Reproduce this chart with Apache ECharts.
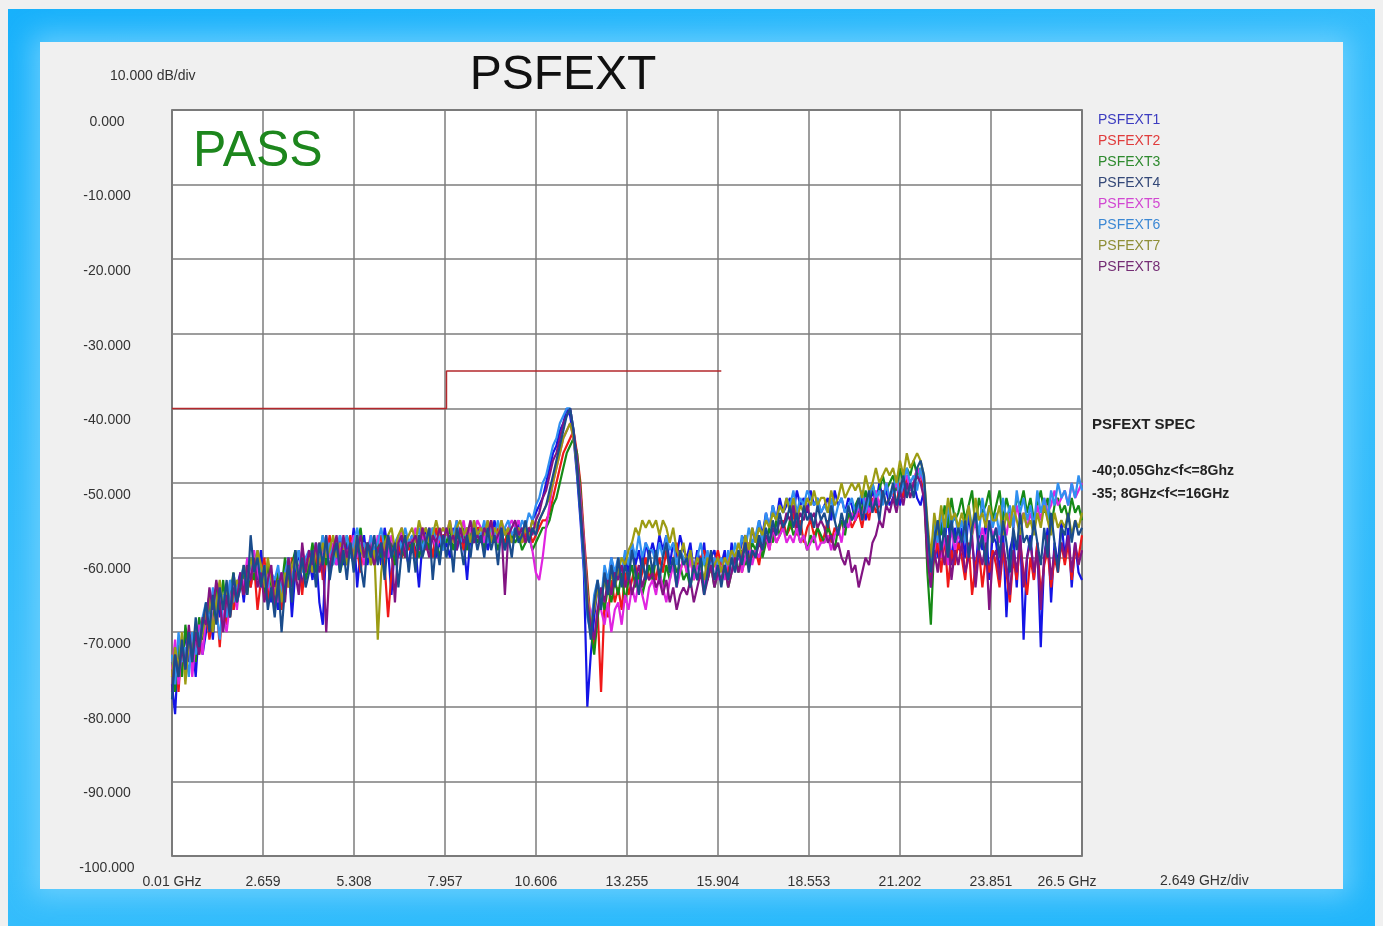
<!DOCTYPE html>
<html>
<head>
<meta charset="utf-8">
<title>PSFEXT</title>
<script src="https://cdn.jsdelivr.net/npm/echarts@6/dist/echarts.min.js"></script>
<style>
  html, body { margin: 0; padding: 0; background: #f0f0f0; }
  #frame {
    position: absolute; left: 8px; top: 9px; width: 1367px; height: 917px;
    background: linear-gradient(160deg, #18b1fb 0%, #3cc0fc 50%, #22b6fb 100%);
  }
  #main {
    position: absolute; left: 40px; top: 42px; width: 1303px; height: 847px;
    background: #f0f0f0;
    box-shadow: 0 0 26px 8px rgba(130, 215, 255, 0.7);
  }
</style>
</head>
<body>
<div id="frame"></div>
<div id="main"></div>
<script>
// sweep points, GHz (one row per GHz)
var freqGHz = [
  0.01, 0.1, 0.2, 0.3, 0.4, 0.5, 0.6, 0.7, 0.8, 0.9,
  1.0, 1.1, 1.2, 1.3, 1.4, 1.5, 1.6, 1.7, 1.8, 1.9,
  2.0, 2.1, 2.2, 2.3, 2.4, 2.5, 2.6, 2.7, 2.8, 2.9,
  3.0, 3.1, 3.2, 3.3, 3.4, 3.5, 3.6, 3.7, 3.8, 3.9,
  4.0, 4.1, 4.2, 4.3, 4.4, 4.5, 4.6, 4.7, 4.8, 4.9,
  5.0, 5.1, 5.2, 5.3, 5.4, 5.5, 5.6, 5.7, 5.8, 5.9,
  6.0, 6.1, 6.2, 6.3, 6.4, 6.5, 6.6, 6.7, 6.8, 6.9,
  7.0, 7.1, 7.2, 7.3, 7.4, 7.5, 7.6, 7.7, 7.8, 7.9,
  8.0, 8.1, 8.2, 8.3, 8.4, 8.5, 8.6, 8.7, 8.8, 8.9,
  9.0, 9.1, 9.2, 9.3, 9.4, 9.5, 9.6, 9.7, 9.8, 9.9,
  10.0, 10.1, 10.2, 10.3, 10.4, 10.5, 10.6, 10.7, 10.8, 10.9,
  11.0, 11.1, 11.2, 11.3, 11.4, 11.5, 11.6, 11.7, 11.8, 11.9,
  12.0, 12.1, 12.2, 12.3, 12.4, 12.5, 12.6, 12.7, 12.8, 12.9,
  13.0, 13.1, 13.2, 13.3, 13.4, 13.5, 13.6, 13.7, 13.8, 13.9,
  14.0, 14.1, 14.2, 14.3, 14.4, 14.5, 14.6, 14.7, 14.8, 14.9,
  15.0, 15.1, 15.2, 15.3, 15.4, 15.5, 15.6, 15.7, 15.8, 15.9,
  16.0, 16.1, 16.2, 16.3, 16.4, 16.5, 16.6, 16.7, 16.8, 16.9,
  17.0, 17.1, 17.2, 17.3, 17.4, 17.5, 17.6, 17.7, 17.8, 17.9,
  18.0, 18.1, 18.2, 18.3, 18.4, 18.5, 18.6, 18.7, 18.8, 18.9,
  19.0, 19.1, 19.2, 19.3, 19.4, 19.5, 19.6, 19.7, 19.8, 19.9,
  20.0, 20.1, 20.2, 20.3, 20.4, 20.5, 20.6, 20.7, 20.8, 20.9,
  21.0, 21.1, 21.2, 21.3, 21.4, 21.5, 21.6, 21.7, 21.8, 21.9,
  22.0, 22.1, 22.2, 22.3, 22.4, 22.5, 22.6, 22.7, 22.8, 22.9,
  23.0, 23.1, 23.2, 23.3, 23.4, 23.5, 23.6, 23.7, 23.8, 23.9,
  24.0, 24.1, 24.2, 24.3, 24.4, 24.5, 24.6, 24.7, 24.8, 24.9,
  25.0, 25.1, 25.2, 25.3, 25.4, 25.5, 25.6, 25.7, 25.8, 25.9,
  26.0, 26.1, 26.2, 26.3, 26.4, 26.5
];

// dB, same rows as freqGHz
var psfext1 = [
  -77, -81, -72, -75, -70, -74, -71, -76, -69, -73,
  -70, -66, -71, -64, -68, -65, -69, -63, -67, -64,
  -62, -66, -61, -64, -60, -63, -59, -65, -62, -66,
  -63, -67, -62, -65, -60, -68, -62, -59, -64, -61,
  -60, -63, -59, -66, -69, -58, -62, -59, -61, -57,
  -61, -58, -60, -56, -64, -59, -57, -61, -58, -60,
  -58, -61, -56, -59, -65, -58, -60, -57, -59, -61,
  -57, -59, -64, -58, -56, -59, -57, -60, -58, -59,
  -58, -60, -56, -59, -57, -58, -63, -57, -58, -56,
  -58, -56, -59, -57, -55, -58, -57, -59, -56, -58,
  -57, -55, -58, -56, -57, -55, -54, -53, -52, -50,
  -48, -46, -45, -43, -42, -40, -41, -44, -49, -55,
  -62, -80, -73, -68, -64, -66, -62, -64, -60, -63,
  -61, -63, -60, -62, -58, -61, -59, -62, -58, -60,
  -58, -60, -57, -59, -57, -61, -58, -60, -57, -59,
  -60, -58, -62, -59, -61, -58, -63, -60, -59, -62,
  -61, -59, -63, -58, -61, -60, -58, -57, -60, -56,
  -58, -55, -57, -54, -56, -53, -55, -52, -54, -53,
  -52, -54, -51, -53, -52, -54, -51, -53, -52, -54,
  -53, -52, -55, -51, -53, -52, -54, -52, -53, -55,
  -54, -52, -55, -53, -51, -53, -50, -52, -51, -53,
  -52, -50, -53, -51, -49, -51, -50, -52, -53, -51,
  -58, -64, -56, -60, -55, -58, -54, -61, -56, -59,
  -56, -60, -54, -58, -62, -56, -59, -55, -63, -57,
  -58, -62, -56, -68, -59, -57, -64, -56, -71, -60,
  -57, -63, -58, -72, -60, -56, -66, -58, -61, -55,
  -60, -56, -64, -58, -62, -63
];
var psfext2 = [
  -76, -72, -78, -71, -74, -70, -75, -69, -73, -70,
  -67, -71, -68, -66, -72, -65, -69, -64, -67, -65,
  -63, -65, -62, -64, -61, -67, -63, -60, -66, -62,
  -65, -62, -67, -61, -64, -60, -63, -61, -65, -60,
  -62, -59, -61, -58, -63, -60, -57, -61, -59, -60,
  -58, -61, -57, -60, -59, -62, -58, -60, -57, -61,
  -59, -57, -61, -68, -62, -59, -58, -60, -57, -59,
  -57, -60, -58, -56, -59, -57, -60, -56, -58, -57,
  -57, -56, -58, -55, -57, -59, -56, -57, -58, -56,
  -56, -58, -57, -55, -58, -56, -57, -58, -56, -57,
  -57, -56, -58, -57, -56, -58, -57, -56, -55, -55,
  -54, -52, -50, -48, -46, -45, -44, -43, -46, -50,
  -57, -63, -69, -72, -67, -78, -66, -68, -63, -66,
  -64, -67, -62, -65, -63, -61, -64, -62, -60, -63,
  -61, -63, -60, -62, -59, -62, -61, -58, -62, -60,
  -62, -60, -63, -61, -60, -59, -61, -60, -61, -59,
  -61, -60, -62, -60, -61, -59, -62, -60, -58, -60,
  -59, -61, -58, -57, -59, -56, -58, -57, -55, -57,
  -56, -54, -57, -55, -58, -56, -55, -57, -56, -58,
  -57, -55, -58, -56, -57, -55, -56, -54, -56, -55,
  -54, -56, -53, -55, -52, -54, -53, -51, -53, -52,
  -51, -53, -50, -52, -49, -51, -50, -48, -49, -51,
  -59, -63, -60, -58, -62, -57, -64, -59, -61, -58,
  -60, -63, -58, -65, -61, -59, -64, -60, -62, -59,
  -61, -64, -59, -62, -66, -60, -63, -58, -62, -65,
  -60, -63, -58, -65, -61, -59, -64, -60, -62, -58,
  -61, -58, -63, -59, -60, -57
];
var psfext3 = [
  -74, -78, -71, -76, -69, -73, -70, -74, -68, -71,
  -69, -66, -70, -64, -67, -63, -68, -65, -62, -66,
  -64, -62, -65, -61, -63, -60, -62, -65, -61, -64,
  -66, -62, -64, -60, -63, -61, -59, -62, -60, -63,
  -61, -58, -62, -60, -57, -61, -59, -60, -58, -62,
  -60, -57, -59, -61, -58, -56, -60, -58, -61, -59,
  -58, -60, -57, -59, -58, -61, -57, -59, -60, -58,
  -59, -57, -60, -58, -57, -59, -56, -58, -60, -57,
  -58, -56, -59, -57, -58, -56, -59, -57, -56, -58,
  -57, -59, -56, -58, -57, -59, -57, -56, -58, -57,
  -58, -57, -59, -58, -57, -59, -58, -57, -56, -56,
  -55, -53, -52, -50, -48, -46, -45, -44, -46, -51,
  -58, -64, -70, -73, -68, -65, -67, -64, -66, -63,
  -65, -62, -66, -63, -61, -64, -62, -65, -63, -61,
  -63, -60, -62, -64, -61, -63, -60, -62, -61, -63,
  -62, -64, -61, -63, -62, -60, -63, -61, -64, -62,
  -63, -61, -64, -62, -60, -62, -59, -61, -60, -58,
  -59, -57, -60, -58, -56, -58, -55, -57, -56, -57,
  -55, -57, -56, -58, -57, -59, -57, -58, -56, -57,
  -58, -56, -57, -59, -56, -55, -57, -54, -55, -53,
  -52, -54, -51, -53, -50, -52, -51, -49, -51, -50,
  -49, -51, -48, -50, -48, -49, -47, -49, -48, -50,
  -62, -69, -58, -55, -57, -53, -56, -52, -55, -54,
  -52, -55, -53, -51, -56, -52, -54, -53, -51, -55,
  -53, -51, -55, -52, -54, -56, -52, -53, -51, -54,
  -52, -55, -53, -51, -54, -52, -56, -53, -52, -54,
  -53, -55, -52, -54, -53, -55
];
var psfext4 = [
  -79, -73, -76, -71, -75, -70, -74, -68, -72, -69,
  -66, -70, -65, -69, -64, -67, -63, -68, -62, -66,
  -64, -61, -65, -57, -62, -60, -64, -61, -67, -64,
  -68, -63, -70, -64, -61, -66, -59, -63, -60, -64,
  -62, -59, -64, -58, -61, -57, -63, -60, -58, -62,
  -59, -63, -58, -62, -57, -61, -64, -58, -60, -57,
  -61, -58, -63, -57, -60, -58, -64, -59, -57, -62,
  -58, -62, -57, -60, -58, -56, -63, -58, -61, -57,
  -60, -57, -62, -56, -58, -61, -57, -60, -56, -59,
  -57, -60, -56, -59, -57, -61, -56, -59, -57, -60,
  -56, -58, -57, -55, -58, -56, -57, -55, -54, -53,
  -51, -49, -47, -45, -43, -41, -40, -43, -48, -54,
  -60, -67, -71, -66, -63, -67, -62, -65, -61, -64,
  -60, -64, -61, -63, -59, -62, -65, -60, -63, -59,
  -62, -59, -63, -60, -58, -62, -60, -64, -59, -61,
  -60, -64, -61, -63, -60, -65, -62, -59, -63, -61,
  -64, -61, -63, -60, -62, -59, -61, -58, -62, -59,
  -60, -57, -59, -56, -58, -55, -57, -54, -56, -55,
  -53, -56, -54, -57, -53, -55, -54, -56, -53, -55,
  -54, -56, -53, -55, -57, -54, -56, -53, -55, -54,
  -52, -55, -53, -51, -54, -52, -55, -51, -53, -52,
  -50, -53, -51, -49, -52, -50, -52, -48, -47, -49,
  -56, -62, -58, -55, -59, -56, -60, -55, -58, -56,
  -58, -55, -60, -56, -54, -59, -57, -61, -55, -58,
  -56, -60, -55, -58, -62, -56, -59, -54, -58, -57,
  -59, -55, -58, -61, -56, -60, -54, -58, -62, -56,
  -57, -54, -58, -55, -57, -56
];
var psfext5 = [
  -75, -71, -77, -72, -74, -70, -76, -71, -69, -73,
  -68, -65, -69, -67, -64, -68, -70, -66, -63, -67,
  -62, -64, -60, -63, -59, -62, -64, -61, -63, -65,
  -64, -66, -62, -65, -61, -63, -60, -62, -59, -61,
  -60, -62, -58, -61, -59, -57, -60, -58, -61, -59,
  -58, -60, -59, -57, -60, -58, -61, -59, -57, -60,
  -57, -59, -58, -60, -57, -59, -58, -56, -59, -58,
  -58, -56, -59, -57, -58, -56, -57, -59, -57, -56,
  -57, -55, -58, -56, -57, -55, -58, -56, -57, -55,
  -56, -58, -55, -57, -56, -58, -55, -57, -56, -55,
  -56, -55, -57, -56, -57, -59, -62, -63, -60, -56,
  -53, -50, -48, -46, -44, -43, -42, -44, -47, -52,
  -58, -65, -68, -66, -64, -67, -69, -66, -70, -67,
  -66, -69, -65, -67, -64, -66, -63, -65, -67, -64,
  -63, -65, -62, -64, -66, -63, -61, -64, -62, -60,
  -62, -60, -63, -61, -62, -64, -61, -62, -60, -63,
  -61, -63, -60, -62, -61, -59, -62, -60, -58, -61,
  -59, -60, -58, -57, -59, -56, -58, -57, -56, -58,
  -57, -58, -56, -58, -57, -59, -58, -57, -59, -58,
  -58, -57, -59, -57, -56, -58, -55, -56, -54, -55,
  -53, -55, -52, -54, -53, -51, -53, -52, -50, -52,
  -51, -50, -52, -50, -49, -51, -50, -48, -49, -50,
  -57, -62, -59, -56, -60, -57, -61, -56, -59, -57,
  -58, -56, -60, -57, -55, -59, -56, -58, -55, -57,
  -56, -58, -55, -57, -54, -56, -53, -55, -54, -56,
  -54, -56, -53, -55, -52, -54, -53, -51, -53, -52,
  -51, -53, -50, -52, -51, -50
];
var psfext6 = [
  -73, -77, -70, -74, -72, -76, -70, -73, -71, -68,
  -66, -69, -64, -67, -71, -65, -68, -63, -66, -64,
  -63, -61, -64, -60, -62, -59, -63, -61, -64, -62,
  -63, -61, -65, -62, -60, -63, -61, -59, -62, -60,
  -59, -61, -58, -60, -57, -60, -58, -61, -59, -57,
  -59, -57, -60, -58, -56, -59, -58, -60, -57, -59,
  -58, -56, -59, -57, -60, -58, -57, -59, -56, -58,
  -57, -58, -56, -59, -57, -58, -56, -58, -57, -59,
  -56, -58, -57, -55, -58, -57, -56, -58, -55, -57,
  -57, -55, -58, -56, -57, -55, -58, -56, -55, -57,
  -56, -57, -55, -56, -54, -55, -53, -52, -50, -49,
  -47, -45, -44, -42, -41, -40, -40, -43, -48, -54,
  -61, -68, -70, -65, -63, -66, -61, -63, -60, -62,
  -60, -62, -59, -61, -58, -60, -57, -60, -58, -59,
  -59, -61, -58, -60, -57, -59, -58, -61, -59, -60,
  -61, -59, -62, -60, -58, -61, -59, -62, -60, -61,
  -60, -62, -59, -61, -58, -60, -57, -59, -56, -58,
  -57, -55, -58, -54, -56, -53, -55, -53, -54, -52,
  -53, -51, -54, -52, -53, -51, -52, -53, -52, -54,
  -53, -54, -52, -55, -53, -52, -54, -53, -52, -54,
  -53, -51, -54, -52, -50, -52, -51, -53, -50, -52,
  -51, -49, -52, -50, -48, -50, -49, -51, -48, -50,
  -57, -61, -55, -58, -54, -57, -53, -56, -54, -57,
  -55, -58, -53, -56, -54, -57, -52, -55, -53, -56,
  -54, -57, -52, -55, -53, -56, -51, -54, -52, -55,
  -53, -56, -51, -54, -52, -55, -51, -53, -50, -52,
  -51, -53, -50, -52, -49, -51
];
var psfext7 = [
  -76, -72, -75, -70, -77, -71, -73, -69, -72, -70,
  -68, -65, -70, -66, -63, -67, -64, -68, -65, -63,
  -64, -61, -63, -60, -62, -59, -61, -64, -60, -63,
  -65, -63, -66, -62, -64, -61, -60, -63, -61, -62,
  -60, -62, -59, -61, -58, -60, -59, -57, -60, -58,
  -59, -61, -58, -60, -57, -59, -60, -58, -61, -59,
  -71, -62, -58, -57, -56, -59, -57, -56, -58, -57,
  -56, -58, -55, -57, -56, -58, -57, -55, -57, -56,
  -57, -55, -58, -56, -55, -57, -56, -58, -55, -57,
  -56, -57, -55, -58, -56, -57, -55, -57, -56, -58,
  -57, -56, -58, -56, -57, -55, -56, -55, -54, -53,
  -52, -50, -48, -46, -44, -43, -42, -44, -48, -53,
  -59, -65, -69, -67, -64, -66, -63, -65, -62, -64,
  -62, -60, -61, -59, -58, -56, -57, -55, -56, -55,
  -56, -55, -57, -55, -56, -58, -56, -59, -60, -58,
  -61, -59, -62, -60, -61, -63, -60, -62, -61, -60,
  -62, -60, -61, -59, -60, -58, -60, -57, -59, -56,
  -58, -56, -57, -55, -56, -54, -55, -53, -54, -52,
  -54, -52, -55, -53, -54, -52, -53, -51, -53, -52,
  -52, -54, -51, -53, -52, -50, -52, -51, -50, -51,
  -50, -52, -49, -51, -50, -48, -50, -49, -48, -49,
  -48, -50, -47, -49, -46, -48, -47, -46, -47, -49,
  -55, -60, -54, -57, -53, -56, -52, -55, -54, -56,
  -54, -56, -53, -57, -52, -55, -54, -56, -53, -55,
  -55, -53, -57, -54, -56, -53, -55, -57, -54, -56,
  -55, -57, -54, -56, -53, -55, -57, -54, -56, -55,
  -56, -54, -57, -55, -56, -54
];
var psfext8 = [
  -78, -73, -76, -72, -75, -69, -74, -70, -73, -68,
  -69, -64, -67, -63, -66, -70, -65, -68, -64, -66,
  -62, -65, -61, -63, -60, -64, -62, -66, -63, -61,
  -67, -64, -62, -66, -60, -64, -62, -65, -58, -62,
  -59, -61, -58, -62, -60, -70, -61, -59, -57, -61,
  -57, -60, -58, -61, -59, -57, -60, -58, -59, -61,
  -59, -58, -60, -57, -59, -66, -58, -57, -60, -58,
  -58, -57, -59, -56, -58, -60, -57, -58, -56, -58,
  -56, -58, -57, -59, -56, -58, -57, -55, -58, -57,
  -58, -56, -57, -55, -58, -57, -56, -65, -57, -56,
  -55, -57, -56, -58, -56, -57, -55, -54, -52, -51,
  -49, -47, -46, -44, -42, -41, -40, -43, -47, -53,
  -59, -66, -69, -71, -67, -64, -66, -63, -65, -62,
  -63, -61, -64, -62, -65, -63, -61, -64, -62, -63,
  -62, -64, -63, -65, -63, -66, -64, -67, -65, -64,
  -65, -63, -66, -64, -62, -65, -63, -61, -64, -62,
  -63, -61, -64, -62, -60, -62, -60, -58, -61, -59,
  -60, -58, -59, -57, -58, -56, -57, -55, -56, -54,
  -55, -53, -56, -54, -55, -53, -55, -54, -56, -55,
  -56, -58, -57, -59, -58, -60, -61, -59, -62, -61,
  -64, -62, -60, -61, -58, -57, -55, -56, -53, -54,
  -52, -54, -51, -53, -50, -52, -50, -49, -50, -52,
  -60, -64, -59, -62, -58, -61, -57, -63, -59, -61,
  -58, -62, -60, -57, -64, -59, -61, -58, -67, -60,
  -59, -63, -58, -61, -65, -59, -62, -57, -64, -60,
  -58, -62, -59, -67, -60, -57, -63, -59, -61, -58,
  -60, -57, -62, -58, -61, -59
];

// limit line
var specFreq = [0.01, 8, 8, 16];
var specLimit = [-40, -40, -35, -35];

var seriesNames = ['PSFEXT1', 'PSFEXT2', 'PSFEXT3', 'PSFEXT4', 'PSFEXT5', 'PSFEXT6', 'PSFEXT7', 'PSFEXT8'];
var seriesValues = [psfext1, psfext2, psfext3, psfext4, psfext5, psfext6, psfext7, psfext8];
var seriesColors = ['#1414e6', '#f01818', '#168a16', '#1a4c8c', '#e024e0', '#3090f0', '#9c9c14', '#821482'];
var legendColors = ['#3c3cc0', '#e03c3c', '#2e8a2e', '#344878', '#d248d2', '#3c88d4', '#8e8e36', '#742c74'];

var xTickLabels = ['0.01 GHz', '2.659', '5.308', '7.957', '10.606', '13.255', '15.904', '18.553', '21.202', '23.851', '26.5 GHz'];

var chart = echarts.init(document.getElementById('main'), null, { renderer: 'canvas' });

function pairs(xs, ys) {
  var out = [];
  var n = Math.min(xs.length, ys.length);
  for (var i = 0; i < n; i++) out.push([xs[i], ys[i]]);
  return out;
}

var series = seriesNames.map(function (name, i) {
  return {
    name: name,
    type: 'line',
    data: pairs(freqGHz, seriesValues[i]),
    showSymbol: false,
    color: seriesColors[i],
    lineStyle: { width: 2.2, color: seriesColors[i] },
    z: name === 'PSFEXT4' ? 3 : 2,
    animation: false
  };
});

series.push({
  name: 'PSFEXT SPEC',
  type: 'line',
  data: pairs(specFreq, specLimit),
  showSymbol: false,
  lineStyle: { width: 1.5, color: '#b4282c' },
  color: '#b4282c',
  z: 4,
  animation: false
});

var smallFont = 'Liberation Sans, Arial, sans-serif';

var option = {
  backgroundColor: '#f0f0f0',
  animation: false,
  grid: {
    left: 132, top: 68, width: 910, height: 746,
    show: true,
    backgroundColor: '#ffffff',
    borderColor: '#4a4a4a',
    borderWidth: 1.5
  },
  legend: {
    orient: 'vertical',
    left: 1048,
    top: 66,
    icon: 'none',
    itemWidth: 0,
    itemHeight: 14,
    itemGap: 7,
    selectedMode: false,
    textStyle: { fontFamily: smallFont, fontSize: 14 },
    data: seriesNames.map(function (n, i) {
      return { name: n, textStyle: { color: legendColors[i] } };
    })
  },
  xAxis: {
    type: 'value',
    min: 0.01,
    max: 26.5,
    interval: 2.649,
    axisLine: { show: false },
    axisTick: { show: false },
    splitLine: { show: true, lineStyle: { color: '#7c7c7c', width: 1.5 } },
    axisLabel: {
      margin: 19,
      color: '#333',
      fontFamily: smallFont,
      fontSize: 14,
      showMinLabel: true,
      showMaxLabel: true,
      formatter: function (v, i) {
        var t = xTickLabels[i] || '';
        return i === xTickLabels.length - 1 ? '{last|' + t + '}' : t;
      },
      rich: {
        last: { fontFamily: smallFont, fontSize: 14, color: '#333', padding: [0, 30, 0, 0] }
      }
    }
  },
  yAxis: {
    type: 'value',
    min: -100,
    max: 0,
    interval: 10,
    axisLine: { show: false },
    axisTick: { show: false },
    splitLine: { show: true, lineStyle: { color: '#7c7c7c', width: 1.5 } },
    axisLabel: {
      margin: 65,
      align: 'center',
      verticalAlign: 'top',
      padding: [5, 0, 0, 0],
      color: '#333',
      fontFamily: smallFont,
      fontSize: 14,
      formatter: function (v) { return v.toFixed(3); }
    }
  },
  graphic: [
    {
      type: 'text', x: 523, y: 34, z: 10,
      style: { text: 'PSFEXT', fill: '#111', font: '48px Liberation Sans, Arial, sans-serif', textAlign: 'center', textVerticalAlign: 'middle' }
    },
    {
      type: 'text', x: 70, y: 34, z: 10,
      style: { text: '10.000 dB/div', fill: '#333', font: '14px Liberation Sans, Arial, sans-serif', textVerticalAlign: 'middle' }
    },
    {
      type: 'text', x: 153, y: 110, z: 10,
      style: { text: 'PASS', fill: '#1d861d', font: '50px Liberation Sans, Arial, sans-serif', textVerticalAlign: 'middle' }
    },
    {
      type: 'text', x: 1120, y: 839, z: 10,
      style: { text: '2.649 GHz/div', fill: '#333', font: '14px Liberation Sans, Arial, sans-serif', textVerticalAlign: 'middle' }
    },
    {
      type: 'text', x: 1052, y: 383, z: 10,
      style: { text: 'PSFEXT SPEC', fill: '#222', font: 'bold 15px Liberation Sans, Arial, sans-serif', textVerticalAlign: 'middle' }
    },
    {
      type: 'text', x: 1052, y: 429, z: 10,
      style: { text: '-40;0.05Ghz<f<=8Ghz', fill: '#222', font: 'bold 14px Liberation Sans, Arial, sans-serif', textVerticalAlign: 'middle' }
    },
    {
      type: 'text', x: 1052, y: 452, z: 10,
      style: { text: '-35; 8GHz<f<=16GHz', fill: '#222', font: 'bold 14px Liberation Sans, Arial, sans-serif', textVerticalAlign: 'middle' }
    }
  ],
  series: series
};

chart.setOption(option);
</script>
</body>
</html>
